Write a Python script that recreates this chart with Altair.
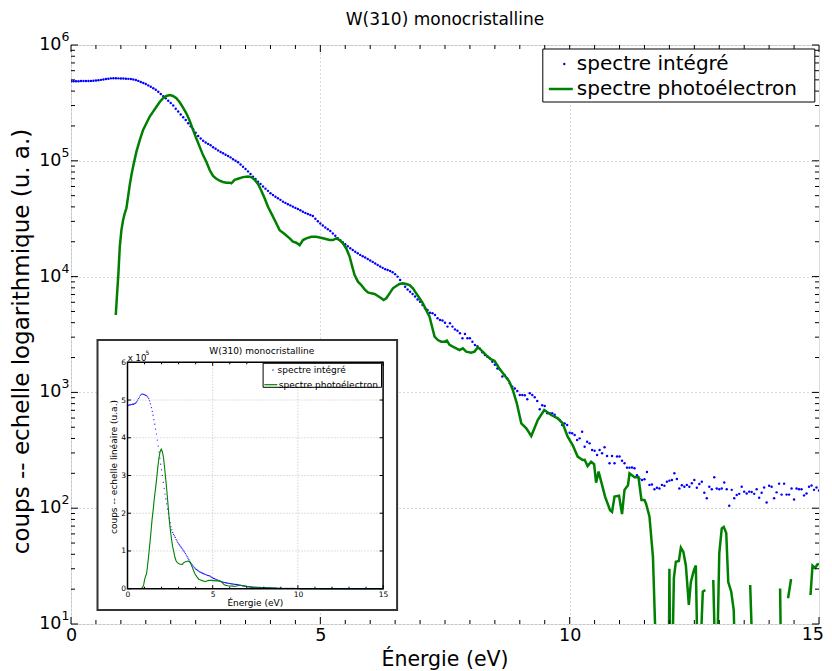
import altair as alt
import pandas as pd

FONT = "DejaVu Sans"
BLUE = "#0000ff"
GREEN = "#008000"
GRID = "#b0b0b0"
LBL_BLUE = "spectre intégré"
LBL_GREEN = "spectre photoélectron"

# ---------------- data ----------------
# integrated spectrum, counts every 0.05 eV from 0.00 eV
blue_a = [486000, 486000, 487000, 487000, 488000, 488000, 489000, 489000, 490000, 491000,
          493000, 496000, 500000, 504000, 508000, 512000, 515000, 516000, 516000, 515000,
          514000, 513000, 512000, 510000, 508000, 504000, 498000, 490000, 480000, 470000,
          460000, 448000, 436000, 423000, 410000, 394000, 378000, 362000, 346000, 330000,
          315000, 300000, 282000, 266000, 251000, 238000, 225000, 211000, 199000, 187000,
          175000, 164000, 156000, 149000, 144000, 140000, 136000, 131000, 127000, 123000,
          119000, 116000, 113000, 110000, 107000, 103000, 100000, 97000, 93000, 89000,
          85000, 81000, 77000, 73000, 69500, 66000, 63000, 60000, 57500, 55000,
          52500, 50700, 49000, 47500, 46000, 44400, 43300, 42200, 41200, 40200,
          39200, 38300, 37400, 36300, 35500, 34700, 34000, 33400, 31600, 30000]
blue_b = [28700, 27600, 26500, 25600, 24800, 23600, 22500, 21500, 20600, 19800,
          19000, 18300, 17600, 17000, 16400, 15900, 15400, 15000, 14600, 14200,
          13800, 13400, 13000, 12600, 12200, 11900, 11600, 11400, 11200, 10900,
          10500, 10000, 9350, 8700, 8180, 7750, 7410, 7080, 6720, 6350,
          6070, 5690, 5320, 5150, 4880, 4820, 4660, 4360, 4220, 4170,
          4000, 3700, 3950, 3700, 3500, 3410, 3240, 2930, 3200, 2930,
          2930, 2740, 2570, 2510, 2380, 2220, 2100, 2030, 1970, 1840,
          1730, 1610, 1580, 1370, 1410, 1320, 1200, 1120, 1080, 1030,
          951, 951, 944, 872, 982, 951, 907, 843, 714, 773,
          763, 660, 660, 660, 640, 600, 578, 523, 540, 523]
blue_c = [449, 443, 428, 388, 401, 458, 340, 375, 363, 318,
          314, 288, 318, 298, 336, 282, 244, 282, 244, 279,
          279, 257, 244, 224, 224, 225, 221, 193, 180, 175,
          178, 205, 159, 160, 146, 150, 148, 159, 156, 169,
          173, 175, 200, 179, 148, 158, 153, 159, 153, 164,
          175, 150, 162, 169, 136, 122, 153, 146, 185, 148,
          146, 148, 167, 146, 105, 144, 122, 130, 133, 153,
          139, 134, 139, 138, 133, 146, 123, 136, 151, 112,
          156, 153, 122, 137, 163, 131, 163, 131, 131, 148,
          119, 148, 146, 146, 129, 134, 153, 157, 144, 151,
          142]
blue_counts = blue_a + blue_b + blue_c
assert len(blue_counts) == 301
blue_energy = [round(i * 0.05, 2) for i in range(len(blue_counts))]

# photoelectron spectrum (None = no positive count)
green_energy = [0.82, 0.898, 0.925, 0.951, 0.978, 1.011, 1.045, 1.078, 1.111, 1.145, 1.178, 1.212, 1.245,
                1.312, 1.379, 1.446, 1.512, 1.579, 1.646, 1.713, 1.779, 1.846, 1.913, 1.98, 2.046, 2.113,
                2.18, 2.247, 2.313, 2.38, 2.447, 2.514, 2.581, 2.647, 2.714, 2.781, 2.848, 2.915, 2.982,
                3.048, 3.115, 3.182, 3.216, 3.282, 3.349, 3.449, 3.549, 3.617, 3.683, 3.75, 3.817, 3.883,
                3.95, 4.017, 4.084, 4.184, 4.284, 4.385, 4.451, 4.518, 4.585, 4.652, 4.719, 4.819, 4.919,
                5.053, 5.186, 5.253, 5.32, 5.387, 5.453, 5.52, 5.587, 5.64, 5.687, 5.754, 5.821, 5.888,
                5.954, 6.021, 6.088, 6.155, 6.222, 6.269, 6.322, 6.389, 6.456, 6.522, 6.589, 6.656, 6.723,
                6.79, 6.857, 6.923, 6.99, 7.057, 7.124, 7.19, 7.257, 7.291, 7.357, 7.424, 7.491, 7.538,
                7.591, 7.658, 7.725, 7.791, 7.858, 7.925, 8.025, 8.092, 8.159, 8.225, 8.325, 8.425, 8.491,
                8.59, 8.69, 8.79, 8.86, 8.94, 9.03, 9.13, 9.23, 9.36, 9.49, 9.63, 9.76, 9.86, 9.96, 10.06,
                10.16, 10.26, 10.30, 10.36, 10.43, 10.49, 10.53, 10.58, 10.71, 10.81, 10.85, 10.90, 10.99,
                11.05, 11.10, 11.17, 11.20, 11.30, 11.38, 11.44, 11.50, 11.53, 11.60, 11.67, 11.75, 11.85,
                11.98, 12.00, 12.03, 12.09, 12.13, 12.19, 12.23, 12.28, 12.33, 12.39, 12.43, 12.49, 12.53,
                12.58, 12.67, 12.72, 12.80, 12.88, 12.94, 13.00, 13.05, 13.09, 13.14, 13.18, 13.24, 13.29,
                13.34, 13.50, 13.62, 13.70, 13.90, 14.22, 14.25, 14.30, 14.38, 14.44, 14.60, 14.83, 14.87,
                14.92, 14.97, 15.00]
green_counts = [0, 4660, 7180, 10700, 18100, 25200, 30800, 35200, 38900, 49000, 61800, 75400, 89000,
                120000, 151000, 185000, 211000, 241000, 266000, 293000, 322000, 347000, 363000, 370000, 363000, 347000,
                320000, 288000, 257000, 222000, 185000, 156000, 132000, 112000, 98200, 83300, 74000, 70000, 67300,
                65600, 64700, 64700, 63900, 68500, 70000, 72300, 73300, 72300, 68500, 63000, 55200, 47400,
                40100, 35200, 30800, 25200, 23300, 21400, 20000, 19600, 18700, 20700, 21400, 22100, 22100,
                21400, 20700, 20700, 21400, 20700, 19400, 17500, 14900, 12200, 10300, 9040, 8460, 7760,
                7310, 7170, 7080, 6800, 6500, 6280, 6500, 7170, 7920, 8300, 8630, 8750, 8630,
                8460, 7920, 7170, 6500, 5870, 5140, 4510, 3460, 3030, 2830, 2740, 2740, 2800,
                2570, 2480, 2400, 2320, 2400, 2250, 2200, 2250, 2450, 2320, 2100, 1930, 1880,
                1610, 1410, 1240, 1050, 805, 541, 490, 420, 578, 705, 638, 598, 541, 414, 351,
                279, 261, 262, 231, 252, 240, 166, 207, 126, 96, 93, 126, 128,
                89, 144, 158, 200, 185, 185, 118, 118, 110, 85, 38, 3, None,
                1, 30, 1, 25, 34.5, 35, 45.6, 42, 32, 14.6, 23, 29, 32,
                2, 19, 19.7, None, 24, 2, 40.7, 67, 69, 61, 23, 19, 13.2,
                2, None, 21.7, 2, None, 20.3, 2, None, 16.7, 24.5, None, 17.8, 31.9,
                30.5, 32.7, 33]
assert len(green_energy) == len(green_counts)

x_major = [0, 5, 10, 15]
x_labels_axis = [0, 5, 10]
x_label_last = [15]
x_minor = [v / 2 for v in range(31) if v % 10 != 0]
y_decades = [10, 100, 1000, 10000, 100000, 1000000]
y_exp = ["1", "2", "3", "4", "5", "6"]
y_minor = [m * d for d in [10, 100, 1000, 10000, 100000] for m in range(2, 10)]

in_x_major = [0, 5, 10, 15]
in_x_minor = [1, 2, 3, 4, 6, 7, 8, 9, 11, 12, 13, 14]
in_y_major = [0, 100000, 200000, 300000, 400000, 500000, 600000]
in_grid_x = [5, 10]
in_grid_y = [100000, 200000, 300000, 400000, 500000]

# ---------------- layout ----------------
W, H = 748, 579
IX0, IX1 = 56.5, 312.1      # inset plot left/right (px)
IY0, IY1 = 543.7, 317.3     # inset plot bottom/top (px)


def xs():
    return alt.Scale(domain=[0, 15], nice=False, zero=False)


def ys():
    return alt.Scale(type="log", domain=[10, 1e6], nice=False)


def ixs():
    return alt.Scale(domain=[0, 15], range=[IX0, IX1], nice=False, zero=False)


def iys():
    return alt.Scale(domain=[0, 600000], range=[IY0, IY1], nice=False, zero=False)


blue_df = pd.DataFrame({"E": blue_energy, "v": blue_counts, "s": LBL_BLUE})
green_df = pd.DataFrame({"E": green_energy, "v": green_counts, "s": LBL_GREEN})


def text(t, x, y, size, angle=0, align="center", baseline="middle"):
    return alt.Chart(pd.DataFrame({"t": [t]})).mark_text(
        font=FONT, fontSize=size, color="black", angle=angle, align=align, baseline=baseline
    ).encode(x=alt.value(x), y=alt.value(y), text="t:N")


def box(x0, x1, y0, y1, fill, stroke, sw, fo=1):
    return alt.Chart(pd.DataFrame({"a": [0]})).mark_rect(
        fill=fill, fillOpacity=fo, stroke=stroke, strokeWidth=sw
    ).encode(x=alt.value(x0), x2=alt.value(x1), y=alt.value(y0), y2=alt.value(y1))


def xtick(vals, scale, y0, y1, sw=1):
    return alt.Chart(pd.DataFrame({"t": vals})).mark_rule(color="black", strokeWidth=sw).encode(
        x=alt.X("t:Q", scale=scale, axis=None), y=alt.value(y0), y2=alt.value(y1))


def ytick(vals, scale, x0, x1, sw=1):
    return alt.Chart(pd.DataFrame({"t": vals})).mark_rule(color="black", strokeWidth=sw).encode(
        y=alt.Y("t:Q", scale=scale, axis=None), x=alt.value(x0), x2=alt.value(x1))


gridkw = dict(grid=True, gridColor=GRID, gridDash=[1, 3], gridWidth=1, ticks=False, domain=False, title=None)

main_blue = alt.Chart(blue_df).mark_circle(size=6, opacity=1, clip=True).encode(
    x=alt.X("E:Q", scale=xs(), axis=alt.Axis(orient="bottom", values=x_labels_axis, labelFont=FONT,
                                               labelFontSize=17.5, labelColor="black", labelPadding=2,
                                               labelFlush=False, **gridkw)),
    y=alt.Y("v:Q", scale=ys(), axis=alt.Axis(orient="left", values=y_decades, labels=False, **gridkw)),
    fill=alt.Fill("s:N", scale=alt.Scale(domain=[LBL_BLUE], range=[BLUE]),
                  legend=alt.Legend(title=None, orient="none", legendX=483.3, legendY=9, padding=0,
                                    labelFont=FONT, labelFontSize=20, labelColor="black", labelLimit=0,
                                    labelOffset=2.5, symbolType="circle", symbolSize=6,
                                    symbolStrokeWidth=0)),
)

main_green = alt.Chart(green_df).transform_filter(
    "datum.v === null || datum.v > 0"
).mark_line(strokeWidth=2.5, clip=True).encode(
    x=alt.X("E:Q", scale=xs(), axis=None),
    y=alt.Y("v:Q", scale=ys(), axis=None),
    stroke=alt.Stroke("s:N", scale=alt.Scale(domain=[LBL_GREEN], range=[GREEN]),
                      legend=alt.Legend(title=None, orient="none", legendX=476.3, legendY=30.5, padding=0,
                                        labelFont=FONT, labelFontSize=20, labelColor="black", labelLimit=0,
                                        labelOffset=2.5, symbolType="stroke", symbolSize=576,
                                        symbolStrokeWidth=2.5)),
)

# last x tick label, kept inside the page edge
x_last = alt.Chart(pd.DataFrame({"t": x_label_last, "lab": ["15"]})).mark_text(
    font=FONT, fontSize=17.5, color="black", align="right", baseline="top", dx=5
).encode(x=alt.X("t:Q", scale=xs(), axis=None), y=alt.value(H + 2), text="lab:N")

ylab_df = pd.DataFrame({"v": y_decades, "base": "10", "exp": y_exp})
ylab_base = alt.Chart(ylab_df).mark_text(font=FONT, fontSize=17.5, color="black", align="right",
                                         baseline="middle").encode(
    x=alt.value(-9.5), y=alt.Y("v:Q", scale=ys(), axis=None), text="base:N")
ylab_exp = alt.Chart(ylab_df).mark_text(font=FONT, fontSize=12.5, color="black", align="left",
                                        baseline="middle", dy=-8).encode(
    x=alt.value(-9.5), y=alt.Y("v:Q", scale=ys(), axis=None), text="exp:N")

# ---------------- inset ----------------
in_blue = alt.Chart(blue_df).mark_circle(size=1.5, opacity=1).encode(
    x=alt.X("E:Q", scale=ixs(), axis=alt.Axis(orient="bottom", offset=IY0 - H, values=in_x_major,
                                                labelFont=FONT, labelFontSize=7.5, labelColor="black",
                                                labelPadding=2, labelFlush=False, ticks=False, domain=False,
                                                grid=False, title=None, zindex=2)),
    y=alt.Y("v:Q", scale=iys(), axis=alt.Axis(orient="left", offset=-IX0, values=in_y_major,
                                                labelExpr="format(datum.value / 100000, 'd')",
                                                labelFont=FONT, labelFontSize=7.5, labelColor="black",
                                                labelPadding=2, ticks=False, domain=False, grid=False,
                                                title=None, zindex=2)),
    fill=alt.Fill("s:N", scale=alt.Scale(domain=[LBL_BLUE], range=[BLUE]),
                  legend=alt.Legend(title=None, orient="none", legendX=197.5, legendY=320.5, padding=0,
                                    labelFont=FONT, labelFontSize=9, labelColor="black", labelLimit=0,
                                    labelOffset=0, symbolType="circle", symbolSize=2, symbolStrokeWidth=0)),
)

in_green = alt.Chart(green_df).transform_calculate(
    w="datum.v === null ? 0 : datum.v"
).mark_line(strokeWidth=1.1).encode(
    x=alt.X("E:Q", scale=ixs(), axis=None),
    y=alt.Y("w:Q", scale=iys(), axis=None),
    stroke=alt.Stroke("s:N", scale=alt.Scale(domain=[LBL_GREEN], range=[GREEN]),
                      legend=alt.Legend(title=None, orient="none", legendX=192.3, legendY=332.2, padding=0,
                                        labelFont=FONT, labelFontSize=9, labelColor="black", labelLimit=0,
                                        labelOffset=0.5, symbolType="stroke", symbolSize=169,
                                        symbolStrokeWidth=1.2)),
)

in_grid_v = alt.Chart(pd.DataFrame({"t": in_grid_x, "lo": 0, "hi": 600000})).mark_rule(
    color=GRID, strokeDash=[1, 2], strokeWidth=0.8).encode(
    x=alt.X("t:Q", scale=ixs(), axis=None),
    y=alt.Y("lo:Q", scale=iys(), axis=None), y2="hi:Q")
in_grid_h = alt.Chart(pd.DataFrame({"t": in_grid_y, "lo": 0, "hi": 15})).mark_rule(
    color=GRID, strokeDash=[1, 2], strokeWidth=0.8).encode(
    y=alt.Y("t:Q", scale=iys(), axis=None),
    x=alt.X("lo:Q", scale=ixs(), axis=None), x2="hi:Q")

layers = [
    main_blue, main_green,
    xtick(x_major, xs(), H, H - 7), xtick(x_minor, xs(), H, H - 4),
    xtick(x_major, xs(), 0, 7), xtick(x_minor, xs(), 0, 4),
    ytick(y_decades, ys(), 0, 7), ytick(y_minor, ys(), 0, 4),
    ytick(y_decades, ys(), W, W - 7), ytick(y_minor, ys(), W, W - 4),
    x_last, ylab_base, ylab_exp,
    box(471.8, 743.8, 4, 57, "white", "black", 1),
    text("W(310) monocristalline", W / 2, -25, 17),
    text("Énergie (eV)", W / 2, 615, 20.5),
    text("coups -- echelle logarithmique (u. a.)", -49, 296.5, 23, angle=270),
    # inset
    box(26.5, 326.1, 295, 565, "white", "#333333", 2),
    in_grid_v, in_grid_h,
    in_blue, in_green,
    box(IX0, IX1, IY1, IY0, "white", "black", 1.5, fo=0),
    xtick(in_x_major, ixs(), IY0, IY0 - 3.5), xtick(in_x_minor, ixs(), IY0, IY0 - 2),
    xtick(in_x_major, ixs(), IY1, IY1 + 3.5), xtick(in_x_minor, ixs(), IY1, IY1 + 2),
    ytick(in_y_major, iys(), IX0, IX0 + 3.5), ytick(in_y_major, iys(), IX1, IX1 - 3.5),
    box(192.1, 310.5, 318.3, 342.3, "white", "black", 1),
    text("W(310) monocristalline", 190.8, 305.7, 9),
    text("Énergie (eV)", (IX0 + IX1) / 2, 558.3, 9),
    text("coups -- echelle linéaire (u.a.)", 42.8, 422, 9, angle=270),
    text("x 10", 56.8, 315.7, 8.5, align="left", baseline="alphabetic"),
    text("5", 74.5, 310, 6, align="left", baseline="alphabetic"),
]

chart = alt.layer(*layers).resolve_scale(
    x="independent", y="independent", fill="independent", stroke="independent"
).properties(
    width=W, height=H,
    autosize=alt.AutoSizeParams(type="none"),
    padding={"left": 63, "top": 37, "right": 5, "bottom": 46},
).configure_view(stroke="black", strokeWidth=1.5).configure(background="white")

chart.save("out.html", embed_options={"renderer": "svg", "actions": False})
